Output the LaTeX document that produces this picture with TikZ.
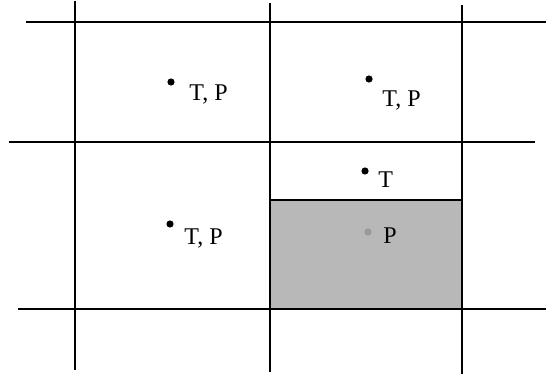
\documentclass[tikz,border=0pt]{standalone}
\usepackage{fontspec}
\setmainfont{Liberation Serif}
\usetikzlibrary{positioning}
\tikzset{
  gridline/.style  = {line width=1pt, draw=black},
  shaded/.style    = {fill=black!28, draw=black, line width=1pt},
  dot/.style       = {circle, fill=black, inner sep=0pt, minimum size=3.6pt},
  greydot/.style   = {dot, fill=black!40},
  celltext/.style  = {anchor=base west, inner sep=0pt,
                      font=\fontsize{12}{14}\selectfont},
}
\begin{document}
\begin{tikzpicture}[x=0.5pt, y=-0.5pt]
    \useasboundingbox (0,0) rectangle (546,374);

    % -- shaded cell ------------------------------------------------
    \draw[shaded] (270,200) rectangle (461.5,309);

    % -- grid lines -------------------------------------------------
    \draw[gridline] (26,22)  -- (546,22);
    \draw[gridline] (8.5,142) -- (535,142);
    \draw[gridline] (18,309) -- (546,309);
    \draw[gridline] (75,1)    -- (75,370);
    \draw[gridline] (270,3.5) -- (270,372);
    \draw[gridline] (461.5,5) -- (461.5,374);

    % -- sample points ----------------------------------------------
    \node[dot] (ptA) at (171,82) {};
    \node[celltext] (lblA) at (189,101) {T, P};

    \node[dot] (ptB) at (369,79) {};
    \node[celltext] (lblB) at (382,106) {T, P};

    \node[dot] (ptC) at (365,171) {};
    \node[celltext] (lblC) at (378,187) {T};

    \node[greydot] (ptD) at (368,232) {};
    \node[celltext] (lblD) at (383,243) {P};

    \node[dot] (ptE) at (170,224) {};
    \node[celltext] (lblE) at (184,244) {T, P};

\end{tikzpicture}
\end{document}
